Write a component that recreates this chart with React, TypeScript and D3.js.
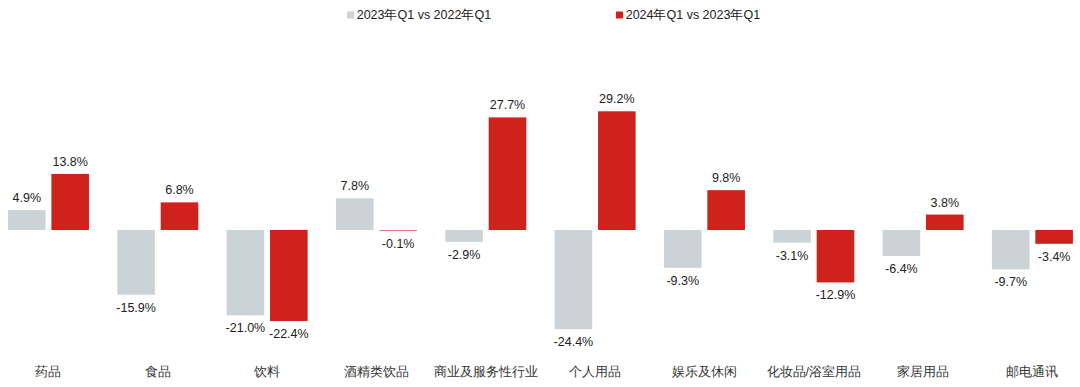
import React from "react";
import * as d3 from "d3";

const categories = ["药品", "食品", "饮料", "酒精类饮品", "商业及服务性行业", "个人用品", "娱乐及休闲", "化妆品/浴室用品", "家居用品", "邮电通讯"];
const seriesNames = ["2023年Q1 vs 2022年Q1", "2024年Q1 vs 2023年Q1"];
const series2023 = [4.9, -15.9, -21.0, 7.8, -2.9, -24.4, -9.3, -3.1, -6.4, -9.7];
const series2024 = [13.8, 6.8, -22.4, -0.1, 27.7, 29.2, 9.8, -12.9, 3.8, -3.4];
const colors = ["#ccd3d7", "#d0221d"];

const W = 1080;
const H = 387;
const FONT = "'Liberation Sans', Arial, sans-serif";

export default function App() {
  const x0 = d3.scaleBand<string>().domain(categories).range([-6.2, 1087.1]).padding(0);
  const groupW = 81;
  const x1 = d3.scaleBand<number>().domain([0, 1]).range([0, groupW]).paddingInner(0.134);
  const y = d3.scaleLinear().domain([-30, 35]).range([230 + 30 * 4.065, 230 - 35 * 4.065]);
  const data = [series2023, series2024];

  return (
    <svg width={W} height={H} style={{ position: "absolute", left: 0, top: 0, background: "#fff" }} fontFamily={FONT}>
      {/* legend */}
      {seriesNames.map((name, i) => {
        const lx = i === 0 ? 347 : 616;
        return (
          <g key={name}>
            <rect x={lx} y={11.5} width={7} height={7} fill={colors[i]} />
            <text x={lx + 9.7} y={15} dominantBaseline="central" fontSize={12.5} fill="#222">{name}</text>
          </g>
        );
      })}
      {categories.map((c, ci) => {
        const gx = (x0(c) as number) + (x0.bandwidth() - groupW) / 2;
        return (
          <g key={c}>
            {data.map((vals, si) => {
              const v = vals[ci];
              const bx = gx + (x1(si) as number);
              const top = Math.min(y(v), y(0));
              const h = Math.max(Math.abs(y(v) - y(0)), 0.6);
              const label = (v < 0 ? "-" : "") + Math.abs(v).toFixed(1) + "%";
              const ty = v >= 0 ? y(v) - 8 : y(0) + h + 17;
              return (
                <g key={si}>
                  <rect x={bx} y={top} width={x1.bandwidth()} height={h} fill={colors[si]} />
                  <text x={bx + x1.bandwidth() / 2} y={ty} textAnchor="middle" fontSize={12.5} fill="#222">{label}</text>
                </g>
              );
            })}
            <text x={gx + groupW / 2} y={372} textAnchor="middle" dominantBaseline="central" fontSize={12.5} fill="#333">{c}</text>
          </g>
        );
      })}
    </svg>
  );
}
